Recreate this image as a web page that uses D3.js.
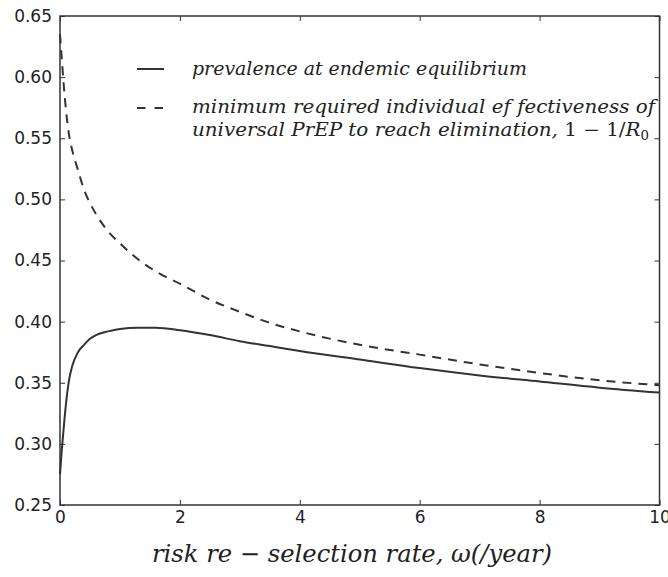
<!DOCTYPE html>
<html>
<head>
<meta charset="utf-8">
<script src="https://cdn.jsdelivr.net/npm/d3@7/dist/d3.min.js"></script>
<style>
  body { margin: 0; background: #fff; }
  svg { display: block; }
</style>
</head>
<body>
<script>
// Values
const omega = [0, 0.03, 0.06, 0.1, 0.15, 0.2, 0.3, 0.4, 0.5, 0.6, 0.8, 1.0, 1.3, 1.6, 2, 2.5, 3, 3.5, 4, 5, 6, 7, 8, 9, 10];
const prevalence = [0.275, 0.295, 0.312, 0.333, 0.352, 0.363, 0.375, 0.381, 0.386, 0.389, 0.392, 0.394, 0.395, 0.395, 0.393, 0.389, 0.384, 0.380, 0.376, 0.369, 0.362, 0.356, 0.351, 0.346, 0.342];
const minEffect = [0.635, 0.615, 0.595, 0.573, 0.553, 0.541, 0.524, 0.508, 0.497, 0.488, 0.474, 0.464, 0.451, 0.441, 0.431, 0.418, 0.408, 0.399, 0.392, 0.381, 0.373, 0.365, 0.358, 0.352, 0.348];
const xTicks = [0, 2, 4, 6, 8, 10];
const yTicks = [0.25, 0.30, 0.35, 0.40, 0.45, 0.50, 0.55, 0.60, 0.65];

const width = 668, height = 577;
const margin = { left: 60, right: 8.5, top: 16, bottom: 72 };
const ink = "#333";

const svg = d3.select("body").append("svg")
    .attr("width", width)
    .attr("height", height);

const x = d3.scaleLinear().domain([0, 10]).range([margin.left, width - margin.right]);
const y = d3.scaleLinear().domain([0.25, 0.65]).range([height - margin.bottom, margin.top]);

// axes, matplotlib style: ticks inside on all four sides
const tickLen = 5;
svg.append("g")
    .attr("transform", `translate(0,${y(0.25)})`)
    .call(d3.axisBottom(x).tickValues(xTicks).tickSizeInner(-tickLen).tickSizeOuter(0).tickPadding(6).tickFormat(d3.format("d")))
    .call(g => g.select(".domain").remove());
svg.append("g")
    .attr("transform", `translate(0,${y(0.65)})`)
    .call(d3.axisTop(x).tickValues(xTicks).tickSizeInner(-tickLen).tickSizeOuter(0).tickFormat(""))
    .call(g => g.select(".domain").remove());
svg.append("g")
    .attr("transform", `translate(${x(0)},0)`)
    .call(d3.axisLeft(y).tickValues(yTicks).tickSizeInner(-tickLen).tickSizeOuter(0).tickPadding(8).tickFormat(d3.format(".2f")))
    .call(g => g.select(".domain").remove());
svg.append("g")
    .attr("transform", `translate(${x(10)},0)`)
    .call(d3.axisRight(y).tickValues(yTicks).tickSizeInner(-tickLen).tickSizeOuter(0).tickFormat(""))
    .call(g => g.select(".domain").remove());

svg.selectAll(".tick line").attr("stroke", ink).attr("stroke-width", 1);
svg.selectAll(".tick text")
    .attr("font-family", "DejaVu Sans, sans-serif")
    .attr("font-size", 17)
    .attr("fill", "#222");

// frame
svg.append("rect")
    .attr("x", x(0)).attr("y", y(0.65))
    .attr("width", x(10) - x(0)).attr("height", y(0.25) - y(0.65))
    .attr("fill", "none")
    .attr("stroke", ink)
    .attr("stroke-width", 1.5);

// curves
const line = d3.line()
    .x(d => x(d[0]))
    .y(d => y(d[1]))
    .curve(d3.curveMonotoneX);

svg.append("path")
    .datum(omega.map((w, i) => [w, prevalence[i]]))
    .attr("d", line)
    .attr("fill", "none")
    .attr("stroke", ink)
    .attr("stroke-width", 2);

svg.append("path")
    .datum(omega.map((w, i) => [w, minEffect[i]]))
    .attr("d", line)
    .attr("fill", "none")
    .attr("stroke", ink)
    .attr("stroke-width", 2)
    .attr("stroke-dasharray", "9,7");

// legend
const serif = "DejaVu Serif, serif";
const leg = svg.append("g")
    .attr("font-family", serif)
    .attr("font-style", "italic")
    .attr("font-size", 18)
    .attr("fill", "#222");
leg.append("line")
    .attr("x1", 137).attr("x2", 164).attr("y1", 69).attr("y2", 69)
    .attr("stroke", ink).attr("stroke-width", 2);
leg.append("text")
    .attr("x", 192).attr("y", 75)
    .attr("textLength", 335).attr("lengthAdjust", "spacingAndGlyphs")
    .text("prevalence at endemic equilibrium");

leg.append("line")
    .attr("x1", 137).attr("x2", 164).attr("y1", 108).attr("y2", 108)
    .attr("stroke", ink).attr("stroke-width", 2)
    .attr("stroke-dasharray", "8.5,9");
leg.append("text")
    .attr("x", 192).attr("y", 113)
    .attr("textLength", 463).attr("lengthAdjust", "spacingAndGlyphs")
    .text("minimum required individual ef fectiveness of");
const l3 = leg.append("text")
    .attr("x", 192).attr("y", 136)
    .attr("textLength", 457).attr("lengthAdjust", "spacingAndGlyphs");
l3.append("tspan").text("universal PrEP to reach elimination, ");
l3.append("tspan").attr("font-style", "normal").text("1 − 1/");
l3.append("tspan").text("R");
l3.append("tspan").attr("font-style", "normal").attr("font-size", 12).attr("dy", 4).text("0");

// x axis title
svg.append("text")
    .attr("x", 352).attr("y", 562)
    .attr("text-anchor", "middle")
    .attr("font-family", serif).attr("font-style", "italic").attr("font-size", 24)
    .attr("fill", "#222")
    .attr("textLength", 400).attr("lengthAdjust", "spacingAndGlyphs")
    .text("risk re − selection rate, ω(/year)");
</script>
</body>
</html>
